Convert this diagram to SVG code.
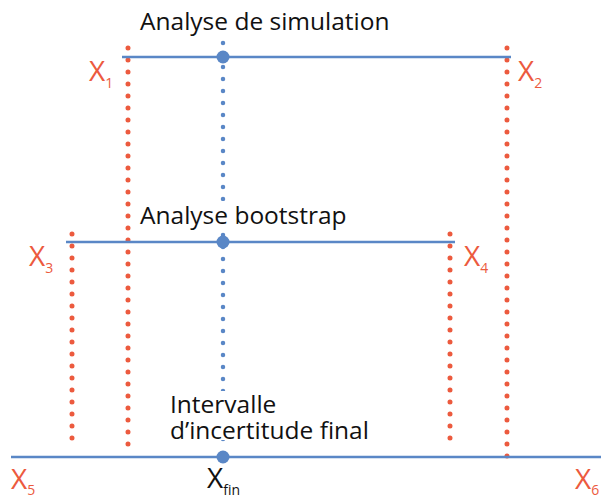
<svg xmlns="http://www.w3.org/2000/svg" width="601" height="501" viewBox="0 0 601 501">
<style>
.red{stroke:#EC5A3E;stroke-width:5;stroke-dasharray:0 12;stroke-linecap:round;fill:none}
.blued{stroke:#5A87C6;stroke-width:4.5;stroke-dasharray:0 12;stroke-linecap:round;fill:none}
.bl{stroke:#5A87C6;stroke-width:2.5;fill:none}
.lab{font-family:"Open Sans","DejaVu Sans",sans-serif;font-size:24.5px;fill:#111}
.x{font-family:"Open Sans","DejaVu Sans",sans-serif;font-size:28px;fill:#EC5A3E}
.xs{font-size:14px}
.xk{font-family:"Open Sans","DejaVu Sans",sans-serif;font-size:28px;fill:#111}
.dot{fill:#5A87C6}
.bg{fill:#fff}
</style>
<rect width="601" height="501" fill="#fff"/>
<g id="connectors">
<line class="red" x1="128" y1="48" x2="128" y2="450"/>
<line class="red" x1="507" y1="48" x2="507" y2="460"/>
<line class="red" x1="72" y1="234" x2="72" y2="450"/>
<line class="red" x1="450" y1="234" x2="450" y2="450"/>
<line class="blued" x1="223" y1="43" x2="223" y2="441"/>
<line class="bl" x1="122" y1="57" x2="511" y2="57"/>
<line class="bl" x1="66" y1="242" x2="455" y2="242"/>
<line class="bl" x1="11" y1="457" x2="601" y2="457" stroke-width="4.5"/>
</g>
<g id="simulation">
<circle class="dot" cx="223" cy="57" r="6.5"/>
<text class="lab" x="140" y="30">Analyse de simulation</text>
</g>
<g id="bootstrap">
<rect class="bg" x="138" y="201" width="212" height="26"/>
<circle class="dot" cx="223" cy="242" r="6.5"/>
<text class="lab" x="140" y="224">Analyse bootstrap</text>
</g>
<g id="final">
<rect class="bg" x="168" y="391" width="212" height="49"/>
<circle class="dot" cx="223" cy="457" r="6.5"/>
<text class="lab" x="170" y="413">Intervalle</text>
<text class="lab" x="170" y="439">d’incertitude final</text>
<text class="xk" x="207" y="488">X<tspan class="xs" dy="7">fin</tspan></text>
</g>
<g id="x1"><text class="x" x="89" y="81">X<tspan class="xs" dy="7">1</tspan></text></g>
<g id="x2"><text class="x" x="518" y="81">X<tspan class="xs" dy="7">2</tspan></text></g>
<g id="x3"><text class="x" x="29" y="266">X<tspan class="xs" dy="7">3</tspan></text></g>
<g id="x4"><text class="x" x="464" y="266">X<tspan class="xs" dy="7">4</tspan></text></g>
<g id="x5"><text class="x" x="11" y="489">X<tspan class="xs" dy="6">5</tspan></text></g>
<g id="x6"><text class="x" x="575" y="489">X<tspan class="xs" dy="6">6</tspan></text></g>
</svg>
